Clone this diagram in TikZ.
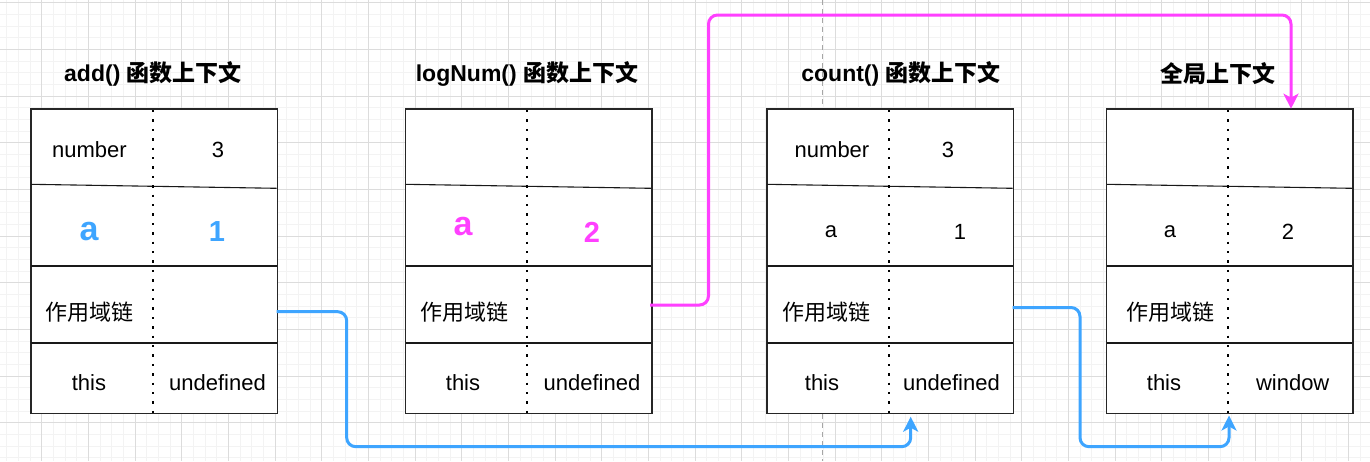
\documentclass[tikz,border=0pt]{standalone}
\usepackage{fontspec}
\setmainfont{Liberation Sans}
\newfontfamily\cjk{Noto Sans CJK SC}
\usetikzlibrary{arrows.meta}
\definecolor{gminor}{RGB}{243,243,243}
\definecolor{gmajor}{RGB}{220,220,220}
\definecolor{cblue}{RGB}{62,165,255}
\definecolor{cpink}{RGB}{255,64,255}
\tikzset{
  boxst/.style={draw=black!85, line width=1pt, fill=white, inner sep=0pt, anchor=north west, minimum width=246pt, minimum height=304pt},
  rowline/.style={draw=black!90, line width=1.1pt},
  dotline/.style={draw=black, line width=2.3pt, dash pattern=on 2.3pt off 7.1pt},
  txt/.style={inner sep=0pt, font=\fontsize{22}{26}\selectfont},
  ttl/.style={inner sep=0pt, font=\fontsize{23}{27}\selectfont\bfseries},
  biga/.style={inner sep=0pt, font=\fontsize{34}{38}\selectfont\bfseries},
  bign/.style={inner sep=0pt, font=\fontsize{29}{33}\selectfont\bfseries},
  conn/.style={line width=3pt, rounded corners=9pt, -{Stealth[length=15pt,width=15pt,inset=4pt]}},
}
\newcommand{\ctxbox}[2]{%
  \node[boxst] (#1) at (#2,108.7) {};
  \draw[rowline] (#2,184.3) -- (#2+246,188.3);
  \draw[rowline] (#2,266) -- (#2+246,266);
  \draw[rowline] (#2,343) -- (#2+246,343);
  \draw[dotline] (#2+122.3,110) -- (#2+122.3,412.7);
  \draw[draw=black!85, line width=1pt] (#1.north west) rectangle (#1.south east);
}
\begin{document}
\begin{tikzpicture}[x=1pt,y=-1pt]
\useasboundingbox (0,0) rectangle (1370,461);
\fill[white] (0,0) rectangle (1370,461);
% grid
\foreach \i in {0,...,119} {\draw[gminor, line width=0.8pt] ({-5+\i*11.6667},0) -- ({-5+\i*11.6667},461);}
\foreach \i in {0,...,40} {\draw[gminor, line width=0.8pt] (0,{2.7+\i*11.6667}) -- (1370,{2.7+\i*11.6667});}
\foreach \i in {0,...,30} {\draw[gmajor, line width=0.9pt] ({-5+\i*46.6667},0) -- ({-5+\i*46.6667},461);}
\foreach \i in {0,...,10} {\draw[gmajor, line width=0.9pt] (0,{2.7+\i*46.6667}) -- (1370,{2.7+\i*46.6667});}
\draw[black!35, line width=1pt, dash pattern=on 5pt off 4pt] (822.7,0) -- (822.7,461);
% boxes
\ctxbox{b1}{30.7}
\ctxbox{b2}{405}
\ctxbox{b3}{766.7}
\ctxbox{b4}{1106}
% titles
\node[ttl] (t1) at (153,74) {add() {\cjk 函数上下文}};
\node[ttl] (t2) at (527,74) {logNum() {\cjk 函数上下文}};
\node[ttl] (t3) at (901,74) {count() {\cjk 函数上下文}};
\node[ttl] (t4) at (1218,74) {\cjk 全局上下文};
% box 1
\node[txt] (b1n) at (89.5,150) {number};
\node[txt] (b1v) at (218,150) {3};
\node[biga, text=cblue] (b1a) at (89,232) {a};
\node[bign, text=cblue] (b1o) at (217,232) {1};
\node[txt] (b1s) at (89,312) {\cjk 作用域链};
\node[txt] (b1t) at (89,383) {this};
\node[txt] (b1u) at (217.5,383) {undefined};
% box 2
\node[biga, text=cpink] (b2a) at (463,227) {a};
\node[bign, text=cpink] (b2o) at (592,232) {2};
\node[txt] (b2s) at (464,312) {\cjk 作用域链};
\node[txt] (b2t) at (463,383) {this};
\node[txt] (b2u) at (592,383) {undefined};
% box 3
\node[txt] (b3n) at (832,150) {number};
\node[txt] (b3v) at (948,150) {3};
\node[txt] (b3a) at (831,232) {a};
\node[txt] (b3o) at (960,232) {1};
\node[txt] (b3s) at (826,312) {\cjk 作用域链};
\node[txt] (b3t) at (822,383) {this};
\node[txt] (b3u) at (951.5,383) {undefined};
% box 4
\node[txt] (b4a) at (1170,232) {a};
\node[txt] (b4o) at (1288,232) {2};
\node[txt] (b4s) at (1170,312) {\cjk 作用域链};
\node[txt] (b4t) at (1164,383) {this};
\node[txt] (b4u) at (1292.7,383) {window};
% connectors
\coordinate (s1) at (276.7,311.7);
\coordinate (e1) at (910.7,416.7);
\coordinate (s2) at (1012.7,307.5);
\coordinate (e2) at (1229,415.5);
\coordinate (s3) at (650,305);
\coordinate (e3) at (1291,108.7);
\draw[conn, cblue] (s1) -- (346.7,311.7) -- (346.7,446.7) -- (e1 |- 0,446.7) -- (e1);
\draw[conn, cblue] (s2) -- (1080,307.5) -- (1080,446.7) -- (e2 |- 0,446.7) -- (e2);
\draw[conn, cpink] (s3) -- (708.5,305) -- (708.5,15) -- (e3 |- 0,15) -- (e3);
\end{tikzpicture}
\end{document}
